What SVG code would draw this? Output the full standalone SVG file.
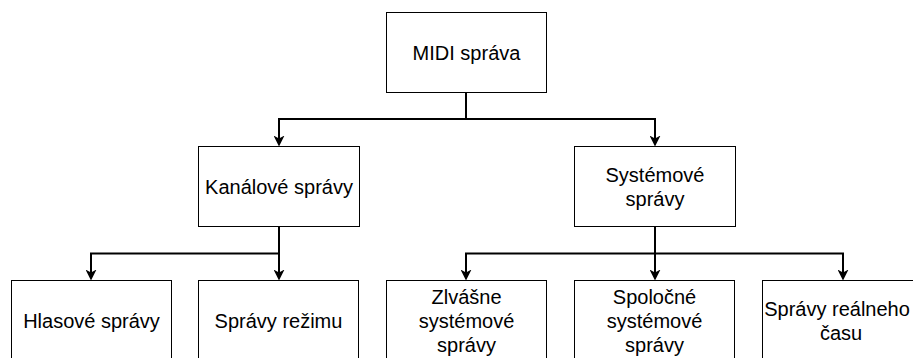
<svg xmlns="http://www.w3.org/2000/svg" width="913" height="358" viewBox="0 0 913 358">
<style>
.box{fill:#fff;stroke:#000;stroke-width:1}
.lbl{font-family:"Liberation Sans",Arial,Helvetica,sans-serif;font-size:20px;fill:#000;text-anchor:middle}
.edge{fill:none;stroke:#000;stroke-width:2;marker-end:url(#arr)}
</style>
<defs>
<marker id="arr" viewBox="0 0 11 11" markerWidth="11" markerHeight="11" refX="8" refY="5.5" orient="auto" markerUnits="userSpaceOnUse">
<path d="M0,0 L11,5.5 L0,11 L3,5.5 Z" fill="#000"/>
</marker>
</defs>
<rect width="913" height="358" fill="#fff"/>
<g id="connectors">
<path class="edge" d="M466,92.5 V119 H279 V143.5"/>
<path class="edge" d="M466,119 H655 V143.5"/>
<path class="edge" d="M279,226.5 V253.5 H91 V277.5"/>
<path class="edge" d="M279,226.5 V277.5"/>
<path class="edge" d="M655,226.5 V253.5 H466 V277.5"/>
<path class="edge" d="M655,226.5 V277.5"/>
<path class="edge" d="M655,253.5 H843 V277.5"/>
</g>
<g id="midi">
<rect class="box" x="386.5" y="12.5" width="160" height="80"/>
<text class="lbl" x="466.5" y="59.5">MIDI správa</text>
</g>
<g id="kanalove">
<rect class="box" x="198.5" y="146.5" width="161" height="80"/>
<text class="lbl" x="279" y="193.5">Kanálové správy</text>
</g>
<g id="systemove">
<rect class="box" x="574.5" y="146.5" width="161" height="80"/>
<text class="lbl" x="655" y="182">Systémové</text>
<text class="lbl" x="655" y="206">správy</text>
</g>
<g id="hlasove">
<rect class="box" x="11.5" y="280.5" width="160" height="90"/>
<text class="lbl" x="91.5" y="328">Hlasové správy</text>
</g>
<g id="rezimu">
<rect class="box" x="198.5" y="280.5" width="160" height="90"/>
<text class="lbl" x="278.5" y="328">Správy režimu</text>
</g>
<g id="zvlasne">
<rect class="box" x="386.5" y="280.5" width="160" height="90"/>
<text class="lbl" x="466.5" y="304">Zlvášne</text>
<text class="lbl" x="466.5" y="328">systémové</text>
<text class="lbl" x="466.5" y="352">správy</text>
</g>
<g id="spolocne">
<rect class="box" x="574.5" y="280.5" width="160" height="90"/>
<text class="lbl" x="654.5" y="304">Spoločné</text>
<text class="lbl" x="654.5" y="328">systémové</text>
<text class="lbl" x="654.5" y="352">správy</text>
</g>
<g id="realneho">
<rect class="box" x="762.5" y="280.5" width="160" height="90"/>
<text class="lbl" x="837" y="316">Správy reálneho</text>
<text class="lbl" x="841" y="340">času</text>
</g>
</svg>
